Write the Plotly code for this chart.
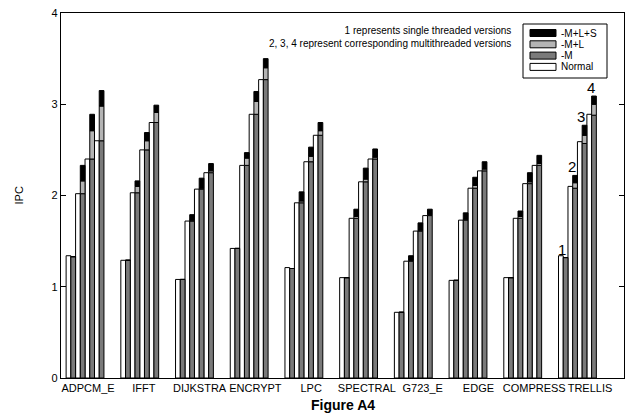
import plotly.graph_objects as go

categories = ["ADPCM_E", "IFFT", "DIJKSTRA", "ENCRYPT", "LPC",
              "SPECTRAL", "G723_E", "EDGE", "COMPRESS", "TRELLIS"]
thread_labels = ["1", "2", "3", "4"]

# IPC per benchmark, per version (1 = single threaded, 2..4 = multithreaded)
normal = [[1.34, 2.02, 2.40, 2.60], [1.29, 2.03, 2.50, 2.80], [1.08, 1.72, 2.07, 2.25],
          [1.42, 2.33, 2.89, 3.27], [1.21, 1.92, 2.37, 2.66], [1.10, 1.75, 2.15, 2.40],
          [0.72, 1.28, 1.61, 1.78], [1.07, 1.73, 2.08, 2.27], [1.10, 1.75, 2.13, 2.33],
          [1.34, 2.10, 2.59, 2.89]]
opt_m = [[1.33, 2.02, 2.40, 2.60], [1.29, 2.03, 2.50, 2.80], [1.08, 1.72, 2.07, 2.25],
         [1.42, 2.33, 2.89, 3.27], [1.20, 1.92, 2.37, 2.66], [1.10, 1.75, 2.15, 2.40],
         [0.72, 1.28, 1.61, 1.78], [1.07, 1.73, 2.08, 2.27], [1.10, 1.75, 2.13, 2.33],
         [1.32, 2.08, 2.57, 2.88]]
opt_ml = [[1.33, 2.16, 2.71, 2.98], [1.29, 2.10, 2.60, 2.91], [1.08, 1.73, 2.08, 2.27],
          [1.42, 2.41, 3.03, 3.40], [1.20, 1.94, 2.43, 2.71], [1.10, 1.77, 2.18, 2.42],
          [0.72, 1.29, 1.62, 1.79], [1.07, 1.74, 2.11, 2.29], [1.10, 1.77, 2.15, 2.35],
          [1.32, 2.14, 2.66, 3.00]]
opt_mls = [[1.33, 2.33, 2.89, 3.15], [1.29, 2.16, 2.69, 2.99], [1.08, 1.79, 2.19, 2.35],
           [1.42, 2.47, 3.14, 3.50], [1.20, 2.04, 2.53, 2.80], [1.10, 1.85, 2.30, 2.51],
           [0.72, 1.34, 1.70, 1.85], [1.07, 1.81, 2.20, 2.37], [1.10, 1.83, 2.25, 2.44],
           [1.32, 2.22, 2.77, 3.09]]

series_names = ["Normal", "-M", "-M+L", "-M+L+S"]
series_colors = ["white", "#7a7a7a", "#b4b4b4", "black"]

FONT = "Liberation Sans, Arial, sans-serif"
W = 0.0848  # width of one bar (axis units)

x_norm, x_opt = [], []
y_norm, y_m, y_l, y_s, b_l, b_s = [], [], [], [], [], []
for i in range(len(categories)):
    center = -0.054 + i * 0.981
    for j in range(4):
        x_norm.append(center + (2 * j - 3.5) * W)
        x_opt.append(center + (2 * j + 1 - 3.5) * W)
        y_norm.append(normal[i][j])
        y_m.append(opt_m[i][j])
        y_l.append(opt_ml[i][j] - opt_m[i][j])
        b_l.append(opt_m[i][j])
        y_s.append(opt_mls[i][j] - opt_ml[i][j])
        b_s.append(opt_ml[i][j])

line = dict(color="black", width=1)
fig = go.Figure()
fig.add_trace(go.Bar(name=series_names[0], x=x_norm, y=y_norm, width=W,
                     marker=dict(color=series_colors[0], line=line)))
fig.add_trace(go.Bar(name=series_names[1], x=x_opt, y=y_m, width=W,
                     marker=dict(color=series_colors[1], line=line)))
fig.add_trace(go.Bar(name=series_names[2], x=x_opt, y=y_l, base=b_l, width=W,
                     marker=dict(color=series_colors[2], line=line)))
fig.add_trace(go.Bar(name=series_names[3], x=x_opt, y=y_s, base=b_s, width=W,
                     marker=dict(color=series_colors[3], line=line)))

# version numbers over TRELLIS
ti = categories.index("TRELLIS")
for j, lab in enumerate(thread_labels):
    k = ti * 4 + j
    fig.add_annotation(x=x_norm[k] + W * 0.3, y=opt_mls[ti][j], text=lab, showarrow=False,
                       xanchor="center", yanchor="bottom", yshift=-2,
                       font=dict(family=FONT, size=15, color="black"))

# custom legend (paper coordinates computed from pixel layout)
PL, PT, PW, PH = 61, 13, 563, 365
def px(x):
    return (x - PL) / PW
def py(y):
    return 1 - (y - PT) / PH

fig.add_shape(type="rect", xref="paper", yref="paper",
              x0=px(523), x1=px(607), y0=py(24), y1=py(78),
              line=dict(color="black", width=1), fillcolor="white")
for r, idx in enumerate([3, 2, 1, 0]):
    yc = 33 + r * 11.3
    fig.add_shape(type="rect", xref="paper", yref="paper",
                  x0=px(530), x1=px(556), y0=py(yc - 3.5), y1=py(yc + 3.5),
                  line=dict(color="black", width=1), fillcolor=series_colors[idx])
    fig.add_annotation(xref="paper", yref="paper", x=px(559), y=py(yc),
                       text=series_names[idx], showarrow=False,
                       xanchor="left", yanchor="middle",
                       font=dict(family=FONT, size=10, color="black"))

fig.add_annotation(xref="paper", yref="paper", x=px(513), y=py(23),
                   text="1 represents single threaded versions<br>2, 3, 4 represent corresponding multithreaded versions",
                   showarrow=False, xanchor="right", yanchor="top", align="right",
                   font=dict(family=FONT, size=10, color="black"))
fig.add_annotation(xref="paper", yref="paper", x=px(18), y=0.5, text="IPC",
                   textangle=-90, showarrow=False, xanchor="center", yanchor="middle",
                   font=dict(family=FONT, size=11, color="black"))
fig.add_annotation(xref="paper", yref="paper", x=px(343), y=py(405), text="<b>Figure A4</b>",
                   showarrow=False, xanchor="center", yanchor="middle",
                   font=dict(family=FONT, size=14, color="black"))

fig.update_layout(
    width=629, height=420,
    margin=dict(l=61, r=5, t=13, b=42, autoexpand=False),
    barmode="overlay",
    showlegend=False,
    paper_bgcolor="white", plot_bgcolor="white",
    font=dict(family=FONT, size=11, color="black"),
    xaxis=dict(range=[-0.485, 9.61], tickvals=list(range(len(categories))),
               ticktext=categories, ticks="", tickangle=0, automargin=False,
               showline=True, linecolor="black",
               linewidth=1.3, mirror=True, showgrid=False, zeroline=False,
               tickfont=dict(family=FONT, size=11)),
    yaxis=dict(range=[0, 4], tickvals=[0, 1, 2, 3, 4], ticks="inside", ticklen=5,
               tickcolor="black", showline=True, linecolor="black", linewidth=1.3,
               mirror="ticks", showgrid=False, zeroline=False, automargin=False,
               tickfont=dict(family=FONT, size=11)),
)

fig.write_html("out.html")
